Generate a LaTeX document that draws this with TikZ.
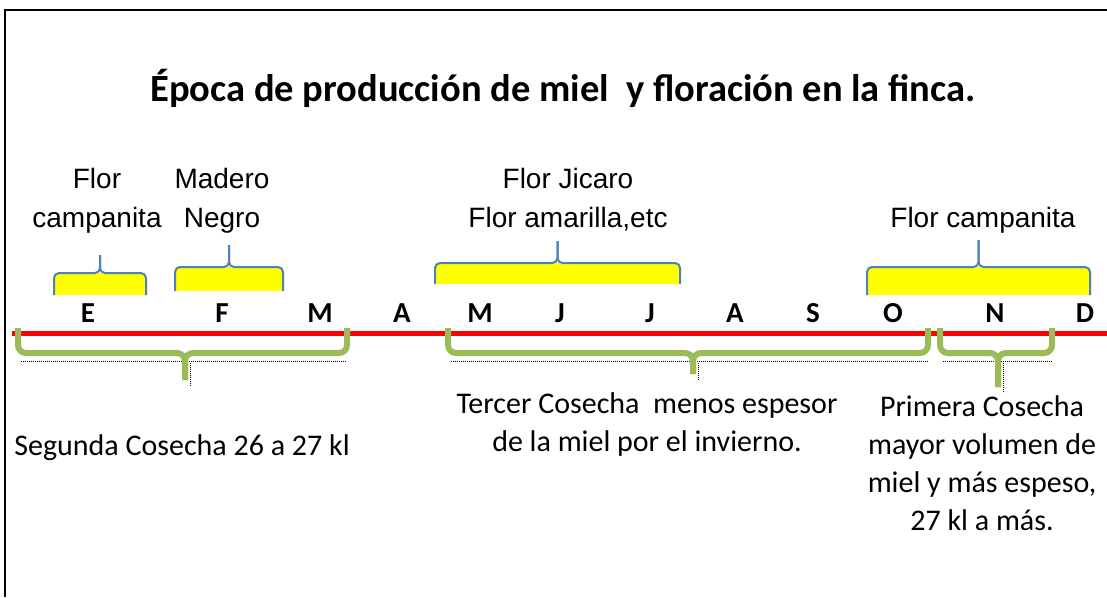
\documentclass[tikz,border=0pt]{standalone}
\usepackage{fontspec}
\setmainfont{Carlito}
\newfontfamily\arialfont{Liberation Sans}
\usepackage{xcolor}
\usetikzlibrary{positioning}

\definecolor{braceblue}{RGB}{79,129,189}
\definecolor{harvestgreen}{RGB}{155,187,89}
\definecolor{flowerfill}{RGB}{255,255,0}

\begin{document}
\begin{tikzpicture}[x=1pt,y=-1pt]
                % Styles for the labels and braces
                \tikzstyle{month}=[inner sep=0pt, anchor=base, font=\fontsize{29}{30}\selectfont\bfseries];
                \tikzstyle{flowertext}=[inner sep=0pt, anchor=north, align=center, font=\arialfont\fontsize{28}{39}\selectfont];
                \tikzstyle{harvesttext}=[inner sep=0pt, anchor=north, align=center, font=\fontsize{30}{38}\selectfont];
                \tikzstyle{flowerbrace}=[draw=braceblue, line width=2pt, rounded corners=5pt];
                \tikzstyle{harvestbrace}=[draw=harvestgreen, line width=6pt, rounded corners=8pt];
                \tikzstyle{shadowdots}=[densely dotted, line width=1pt, black];

                \useasboundingbox (0,0) rectangle (1107,597);

                % Frame
                \draw[line width=2pt] (1107,10) -- (5,10) -- (5,597);

                % Title
                \node[inner sep=0pt, anchor=base, font=\fontsize{38.5}{40}\selectfont\bfseries] (title) at (563,101)
                    {Época de producción de miel \ y floración en la finca.};

                % Time line with the months
                \draw[red, line width=5pt] (12,333) -- (1107,333);
                \foreach \x/\m [count=\i] in {88/E, 222/F, 320/M, 402/A, 480/M, 560/J, 650/J, 735/A, 813/S, 893/O, 995/N, 1085/D}
                    \node[month] (m\i) at (\x,322) {\m};

                % Flowering braces (yellow)
                \foreach \xa/\xb/\yh/\yb/\yt in {54/146/273/295/255, 175/283/267/291/245, 435/680/263/284/241, 867/1090/267/295/240}{
                    \pgfmathsetmacro\xc{(\xa+\xb)/2}
                    \fill[flowerfill] (\xa,\yb) -- (\xa,\yh+4) -- (\xb,\yh+4) -- (\xb,\yb) -- cycle;
                    \fill[flowerfill, rounded corners=5pt] (\xa,\yh+10) -- (\xa,\yh) -- (\xb,\yh) -- (\xb,\yh+10) -- cycle;
                    \draw[flowerbrace] (\xa,\yb) -- (\xa,\yh) -- (\xc,\yh) -- (\xc,\yt);
                    \draw[flowerbrace] (\xb,\yb) -- (\xb,\yh) -- (\xc,\yh) -- (\xc,\yt);
                }

                % Harvest braces (green)
                \foreach \xa/\xb/\xc/\yt in {18/347/185/380, 448/928/693/374, 940/1052/998/387}{
                    \draw[shadowdots] (\xa+3,361) -- (\xb,361);
                    \draw[shadowdots] (\xc+5,363) -- (\xc+5,\yt+6);
                    \draw[harvestbrace] (\xa,328) -- (\xa,353) -- (\xc,353) -- (\xc,\yt);
                    \draw[harvestbrace] (\xb,328) -- (\xb,353) -- (\xc,353) -- (\xc,\yt);
                }

                % Flowers
                \node[flowertext] (flor1) at (97,168) {Flor\\campanita};
                \node[flowertext] (madero) at (222,168) {Madero\\Negro};
                \node[flowertext] (jicaro) at (568,168) {Flor Jicaro\\Flor amarilla,etc};
                \node[flowertext] (flor2) at (983,207) {Flor campanita};

                % Harvests
                \node[harvesttext] (segunda) at (182,434) {Segunda Cosecha 26 a 27 kl};
                \node[harvesttext] (tercer) at (647,392) {Tercer Cosecha \ menos espesor\\de la miel por el invierno.};
                \node[harvesttext] (primera) at (982,395) {Primera Cosecha\\mayor volumen de\\miel y más espeso,\\27 kl a más.};

            \end{tikzpicture}
\end{document}
